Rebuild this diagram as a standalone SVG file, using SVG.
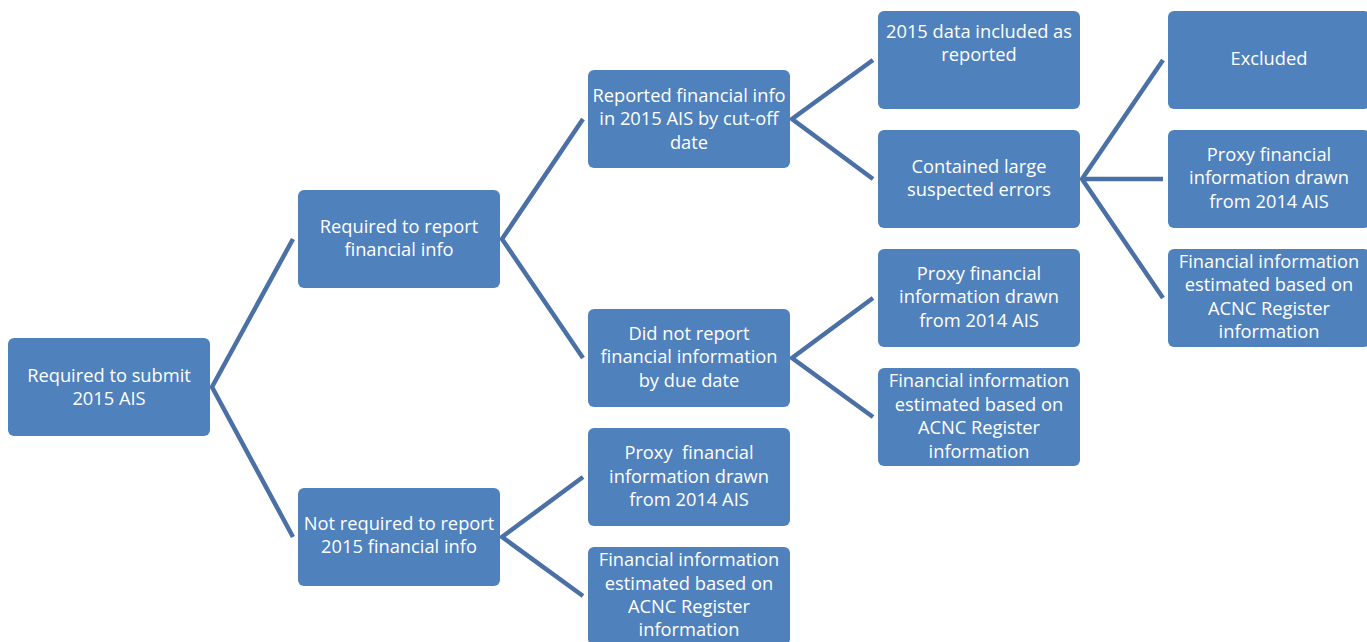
<svg xmlns="http://www.w3.org/2000/svg" width="1367" height="642" viewBox="0 0 1367 642">
<style>
.b{fill:#4F81BD;stroke:none}
.t{font-family:"Open Sans","Liberation Sans",sans-serif;font-size:18.3px;fill:#ffffff;text-anchor:middle}
.c{stroke:#4A70A5;stroke-width:4.5;fill:none;stroke-linecap:butt}
</style>
<rect width="1367" height="642" fill="#ffffff"/>
<g id="connectors">
<path class="c" d="M293,239 L212,387 L293,537"/>
<path class="c" d="M583,119 L502,239 L583,358"/>
<path class="c" d="M583,477 L502,537 L583,596"/>
<path class="c" d="M873,60 L792,119 L873,179"/>
<path class="c" d="M873,298 L792,358 L873,417"/>
<path class="c" d="M1163,60 L1082,179 L1163,298"/>
<path class="c" d="M1082,179 L1163,179"/>
</g>
<g id="n0"><rect class="b" x="8" y="338" width="202" height="98" rx="6"/>
<text class="t" x="109" y="382">Required to submit</text><text class="t" x="109" y="405">2015 AIS</text></g>
<g id="n1"><rect class="b" x="298" y="190" width="202" height="98" rx="6"/>
<text class="t" x="399" y="233">Required to report</text><text class="t" x="399" y="256">financial info</text></g>
<g id="n2"><rect class="b" x="298" y="488" width="202" height="98" rx="6"/>
<text class="t" x="399" y="530">Not required to report</text><text class="t" x="399" y="553">2015 financial info</text></g>
<g id="n3"><rect class="b" x="588" y="70" width="202" height="98" rx="6"/>
<text class="t" x="689" y="102">Reported financial info</text><text class="t" x="689" y="125">in 2015 AIS by cut-off</text><text class="t" x="689" y="149">date</text></g>
<g id="n4"><rect class="b" x="588" y="309" width="202" height="98" rx="6"/>
<text class="t" x="689" y="340">Did not report</text><text class="t" x="689" y="363">financial information</text><text class="t" x="689" y="387">by due date</text></g>
<g id="n5"><rect class="b" x="588" y="428" width="202" height="98" rx="6"/>
<text class="t" x="689" y="459" xml:space="preserve">Proxy  financial</text><text class="t" x="689" y="483">information drawn</text><text class="t" x="689" y="506">from 2014 AIS</text></g>
<g id="n6"><rect class="b" x="588" y="547" width="202" height="98" rx="6"/>
<text class="t" x="689" y="566">Financial information</text><text class="t" x="689" y="590">estimated based on</text><text class="t" x="689" y="613">ACNC Register</text><text class="t" x="689" y="636">information</text></g>
<g id="n7"><rect class="b" x="878" y="11" width="202" height="98" rx="6"/>
<text class="t" x="979" y="38">2015 data included as</text><text class="t" x="979" y="61">reported</text></g>
<g id="n8"><rect class="b" x="878" y="130" width="202" height="98" rx="6"/>
<text class="t" x="979" y="173">Contained large</text><text class="t" x="979" y="196">suspected errors</text></g>
<g id="n9"><rect class="b" x="878" y="249" width="202" height="98" rx="6"/>
<text class="t" x="979" y="280">Proxy financial</text><text class="t" x="979" y="303">information drawn</text><text class="t" x="979" y="327">from 2014 AIS</text></g>
<g id="n10"><rect class="b" x="878" y="368" width="202" height="98" rx="6"/>
<text class="t" x="979" y="387">Financial information</text><text class="t" x="979" y="411">estimated based on</text><text class="t" x="979" y="434">ACNC Register</text><text class="t" x="979" y="458">information</text></g>
<g id="n11"><rect class="b" x="1168" y="11" width="202" height="98" rx="6"/>
<text class="t" x="1269" y="65">Excluded</text></g>
<g id="n12"><rect class="b" x="1168" y="130" width="202" height="98" rx="6"/>
<text class="t" x="1269" y="161">Proxy financial</text><text class="t" x="1269" y="184">information drawn</text><text class="t" x="1269" y="208">from 2014 AIS</text></g>
<g id="n13"><rect class="b" x="1168" y="249" width="202" height="98" rx="6"/>
<text class="t" x="1269" y="268">Financial information</text><text class="t" x="1269" y="291">estimated based on</text><text class="t" x="1269" y="315">ACNC Register</text><text class="t" x="1269" y="338">information</text></g>
</svg>
